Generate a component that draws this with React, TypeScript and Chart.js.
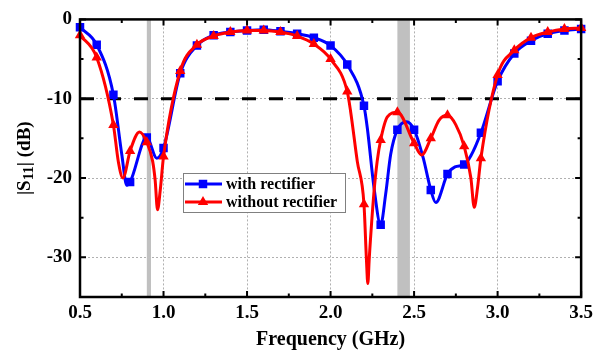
import { useEffect, useRef } from 'react';
import { Chart, registerables } from 'chart.js';

Chart.register(...registerables);

// ---- data ----
const seriesNames = ['with rectifier', 'without rectifier'];

const blueFreq = [0.5, 0.6, 0.7, 0.8, 0.9, 1.0, 1.1, 1.2, 1.3, 1.4, 1.5, 1.6, 1.7, 1.8, 1.9, 2.0, 2.1, 2.2, 2.3, 2.4, 2.5, 2.6, 2.7, 2.8, 2.9, 3.0, 3.1, 3.2, 3.3, 3.4, 3.5];
const blueDb = [-1.0, -3.2, -9.5, -20.5, -14.9, -16.2, -6.8, -3.3, -2.0, -1.6, -1.4, -1.3, -1.5, -1.8, -2.3, -3.3, -5.7, -10.9, -25.9, -13.9, -13.9, -21.5, -19.5, -18.3, -14.3, -7.8, -4.3, -2.7, -1.8, -1.4, -1.2];
const blueExtraFreq = [0.75, 0.78, 0.96, 2.22, 2.26, 2.33, 2.36, 2.455, 2.555, 2.63, 2.745, 2.84];
const blueExtraDb = [-17.0, -20.9, -17.5, -13.7, -21.2, -22.0, -17.0, -12.9, -17.5, -23.1, -18.6, -17.2];

const redFreq = [0.5, 0.6, 0.7, 0.8, 0.9, 1.0, 1.1, 1.2, 1.3, 1.4, 1.5, 1.6, 1.7, 1.8, 1.9, 2.0, 2.1, 2.2, 2.3, 2.4, 2.5, 2.6, 2.7, 2.8, 2.9, 3.0, 3.1, 3.2, 3.3, 3.4, 3.5];
const redDb = [-2.0, -4.8, -13.3, -16.6, -15.5, -17.3, -6.5, -3.2, -2.1, -1.6, -1.4, -1.4, -1.6, -2.1, -3.1, -5.0, -9.1, -23.3, -15.2, -11.7, -15.6, -15.0, -12.1, -16.0, -17.5, -7.0, -3.9, -2.3, -1.6, -1.2, -1.1];
const redExtraFreq = [0.73, 0.757, 0.856, 0.935, 0.95, 0.964, 0.98, 2.12, 2.16, 2.215, 2.223, 2.232, 2.259, 2.279, 2.34, 2.545, 2.65, 2.75, 2.84, 2.86, 2.88];
const redExtraDb = [-18.0, -20.0, -14.2, -17.9, -20.3, -24.0, -21.6, -11.6, -17.9, -30.4, -33.3, -30.0, -22.0, -17.9, -12.3, -17.1, -12.7, -13.3, -20.0, -23.7, -21.2];

const thresholdFreq = [0.5, 3.5];
const thresholdDb = [-10, -10];

const bandStart = [0.9, 2.4];
const bandEnd = [0.925, 2.475];

const xTicks = [0.5, 1.0, 1.5, 2.0, 2.5, 3.0, 3.5];
const xMinorTicks = [0.75, 1.25, 1.75, 2.25, 2.75, 3.25];
const yTicks = [0, -10, -20, -30];
const yMinorTicks = [-5, -15, -25];

const xTitle = 'Frequency (GHz)';

const BLUE = '#0000ff';
const RED = '#ff0000';
const FONT = '"Liberation Serif", "Times New Roman", serif';

type P = { x: number; y: number; m: boolean };

function buildSeries(mf: number[], mv: number[], ef: number[], ev: number[]): P[] {
  const pts: P[] = mf
    .map((x, i) => ({ x, y: mv[i], m: true }))
    .concat(ef.map((x, i) => ({ x, y: ev[i], m: false })));
  pts.sort((a, b) => a.x - b.x);
  return pts;
}

function drawMarker(ctx: CanvasRenderingContext2D, style: string, x: number, y: number, r: number, color: string) {
  ctx.save();
  ctx.fillStyle = color;
  ctx.beginPath();
  if (style === 'rect') {
    const s = Math.SQRT1_2 * r;
    ctx.rect(x - s, y - s, 2 * s, 2 * s);
  } else {
    ctx.moveTo(x, y - r);
    ctx.lineTo(x + r * Math.sin((2 * Math.PI) / 3), y - r * Math.cos((2 * Math.PI) / 3));
    ctx.lineTo(x + r * Math.sin((4 * Math.PI) / 3), y - r * Math.cos((4 * Math.PI) / 3));
    ctx.closePath();
  }
  ctx.fill();
  ctx.restore();
}

const decorPlugin = {
  id: 'decor',
  beforeDatasetsDraw(chart: any) {
    const { ctx, chartArea } = chart;
    const xs = chart.scales.x;
    ctx.save();
    ctx.fillStyle = '#c0c0c0';
    for (let i = 0; i < bandStart.length; i++) {
      const x0 = xs.getPixelForValue(bandStart[i]);
      const x1 = xs.getPixelForValue(bandEnd[i]);
      ctx.fillRect(x0, chartArea.top, x1 - x0, chartArea.bottom - chartArea.top);
    }
    ctx.restore();
  },
  afterDatasetsDraw(chart: any) {
    const { ctx, chartArea } = chart;
    const xs = chart.scales.x;
    const ys = chart.scales.y;
    const { left, right, top, bottom } = chartArea;
    ctx.save();
    ctx.strokeStyle = '#000';
    ctx.lineWidth = 2;
    ctx.beginPath();
    const tick = (v: number, len: number) => {
      const px = xs.getPixelForValue(v);
      ctx.moveTo(px, bottom);
      ctx.lineTo(px, bottom - len);
      ctx.moveTo(px, top);
      ctx.lineTo(px, top + len);
    };
    const ytick = (v: number, len: number) => {
      const py = ys.getPixelForValue(v);
      ctx.moveTo(left, py);
      ctx.lineTo(left + len, py);
      ctx.moveTo(right, py);
      ctx.lineTo(right - len, py);
    };
    xTicks.forEach((v) => tick(v, 6));
    xMinorTicks.forEach((v) => tick(v, 3.5));
    yTicks.forEach((v) => ytick(v, 6));
    yMinorTicks.forEach((v) => ytick(v, 3.5));
    ctx.stroke();
    ctx.lineWidth = 2.5;
    ctx.strokeRect(left, top, right - left, bottom - top);
    ctx.restore();
  },
  afterDraw(chart: any) {
    const { ctx, chartArea } = chart;
    ctx.save();
    // x title
    ctx.fillStyle = '#000';
    ctx.font = `bold 20px ${FONT}`;
    ctx.textAlign = 'center';
    ctx.textBaseline = 'middle';
    ctx.fillText(xTitle, (chartArea.left + chartArea.right) / 2, 340);

    // y title with subscript
    ctx.save();
    ctx.translate(25, (chartArea.top + chartArea.bottom) / 2);
    ctx.rotate(-Math.PI / 2);
    const big = `bold 19px ${FONT}`;
    const small = `bold 15px ${FONT}`;
    const parts: [string, string, number][] = [
      ['|S', big, 0],
      ['11', small, 4],
      ['| (dB)', big, 0],
    ];
    let total = 0;
    parts.forEach(([t, f]) => {
      ctx.font = f;
      total += ctx.measureText(t).width;
    });
    let cx = -total / 2;
    ctx.textAlign = 'left';
    ctx.textBaseline = 'middle';
    parts.forEach(([t, f, dy]) => {
      ctx.font = f;
      ctx.fillText(t, cx, dy);
      cx += ctx.measureText(t).width;
    });
    ctx.restore();

    // legend
    const bx = 183.5, by = 173.5, bw = 162, bh = 39;
    ctx.fillStyle = '#fff';
    ctx.fillRect(bx, by, bw, bh);
    ctx.strokeStyle = '#808080';
    ctx.lineWidth = 1;
    ctx.strokeRect(bx, by, bw, bh);
    const entries: [string, string, string, number][] = [
      [seriesNames[0], BLUE, 'rect', 184],
      [seriesNames[1], RED, 'triangle', 202],
    ];
    entries.forEach(([label, color, style, y]) => {
      ctx.strokeStyle = color;
      ctx.lineWidth = 3;
      ctx.beginPath();
      ctx.moveTo(185, y);
      ctx.lineTo(222, y);
      ctx.stroke();
      drawMarker(ctx, style, 203, y, 6, color);
      ctx.fillStyle = '#000';
      ctx.font = `bold 16px ${FONT}`;
      ctx.textAlign = 'left';
      ctx.textBaseline = 'middle';
      ctx.fillText(label, 226, y + 0.5);
    });
    ctx.restore();
  },
};

export default function App() {
  const ref = useRef<HTMLCanvasElement | null>(null);

  useEffect(() => {
    if (!ref.current) return;
    const blue = buildSeries(blueFreq, blueDb, blueExtraFreq, blueExtraDb);
    const red = buildSeries(redFreq, redDb, redExtraFreq, redExtraDb);
    const tickFont = { family: FONT, weight: 'bold' as const, size: 19 };
    const chart = new Chart(ref.current, {
      type: 'line',
      data: {
        datasets: [
          {
            label: seriesNames[1],
            data: red as any,
            borderColor: RED,
            backgroundColor: RED,
            borderWidth: 3,
            cubicInterpolationMode: 'monotone',
            pointStyle: 'triangle',
            pointRadius: (c: any) => (c.raw && c.raw.m ? 6 : 0),
            pointBorderWidth: 0,
            clip: 6,
          },
          {
            label: seriesNames[0],
            data: blue as any,
            borderColor: BLUE,
            backgroundColor: BLUE,
            borderWidth: 3,
            cubicInterpolationMode: 'monotone',
            pointStyle: 'rect',
            pointRadius: (c: any) => (c.raw && c.raw.m ? 6 : 0),
            pointBorderWidth: 0,
            clip: 6,
          },
          {
            label: 'threshold',
            data: thresholdFreq.map((x, i) => ({ x, y: thresholdDb[i] })),
            borderColor: '#000',
            borderWidth: 3,
            borderDash: [14, 13],
            pointRadius: 0,
            tension: 0,
          },
        ],
      },
      options: {
        responsive: false,
        animation: false,
        events: [],
        layout: { padding: { top: 17, right: 12, left: 0, bottom: 0 } },
        plugins: { legend: { display: false }, tooltip: { enabled: false } },
        scales: {
          x: {
            type: 'linear',
            min: 0.5,
            max: 3.5,
            afterBuildTicks: (s: any) => {
              s.ticks = xTicks.map((v) => ({ value: v }));
            },
            afterFit: (s: any) => {
              s.height = 57;
            },
            ticks: {
              callback: (v: any) => Number(v).toFixed(1),
              font: tickFont,
              color: '#000',
              padding: 5,
              maxRotation: 0,
              autoSkip: false,
            },
            grid: { color: '#b0b0b0', lineWidth: 1, drawTicks: false },
            border: { display: false, dash: [2, 2] },
          },
          y: {
            type: 'linear',
            min: -35,
            max: 0,
            afterBuildTicks: (s: any) => {
              s.ticks = yTicks.map((v) => ({ value: v }));
            },
            afterFit: (s: any) => {
              s.width = 80;
            },
            ticks: {
              callback: (v: any) => String(v),
              font: tickFont,
              color: '#000',
              padding: 8,
              autoSkip: false,
            },
            grid: { color: '#b0b0b0', lineWidth: 1, drawTicks: false },
            border: { display: false, dash: [2, 2] },
          },
        },
      },
      plugins: [decorPlugin],
    });
    return () => chart.destroy();
  }, []);

  return (
    <div style={{ position: 'fixed', left: 0, top: 0, width: 598, height: 354, background: '#fff' }}>
      <canvas ref={ref} width={598} height={354} style={{ display: 'block', width: 598, height: 354 }} />
    </div>
  );
}
